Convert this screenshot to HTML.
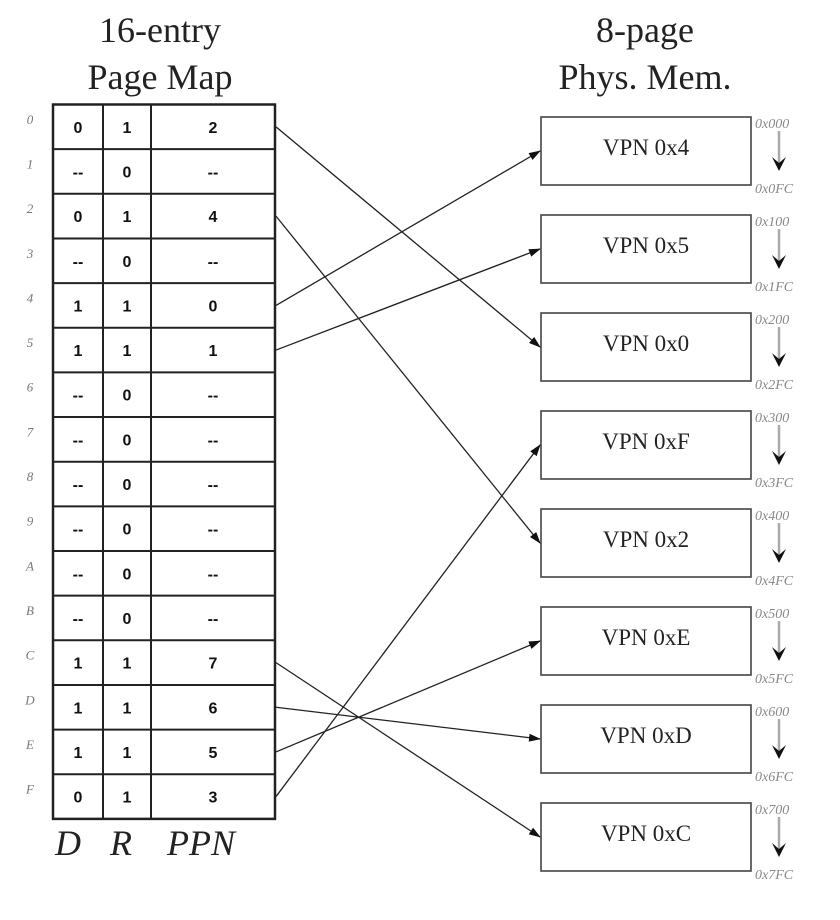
<!DOCTYPE html>
<html><head><meta charset="utf-8"><style>
html,body{margin:0;padding:0;background:#fff;width:840px;height:920px;overflow:hidden}
svg text{font-family:"Liberation Serif",serif}
.t{font-size:36px;fill:#222}
.c{font-family:"Liberation Sans",sans-serif!important;font-weight:bold;font-size:16px;fill:#111}
.idx{font-style:italic;font-size:13px;fill:#777}
.v{font-size:23px;fill:#222}
.a{font-style:italic;font-size:14px;fill:#888}
</style></head><body>
<svg width="840" height="920" viewBox="0 0 840 920" xmlns="http://www.w3.org/2000/svg">
<defs><marker id="ah" markerWidth="12" markerHeight="8" refX="11" refY="4" orient="auto" markerUnits="userSpaceOnUse"><path d="M0,0 L12,4 L0,8 Z" fill="#111"/></marker></defs>
<text class="t" x="160" y="42" text-anchor="middle">16-entry</text>
<text class="t" x="160" y="89" text-anchor="middle">Page Map</text>
<text class="t" x="645" y="42" text-anchor="middle">8-page</text>
<text class="t" x="645" y="89" text-anchor="middle">Phys. Mem.</text>
<g id="tbl"></g>
<text class="t" x="55" y="855" font-style="italic">D</text>
<text class="t" x="110" y="855" font-style="italic">R</text>
<text class="t" x="167" y="855" font-style="italic">PPN</text>
<g id="mem"></g>
<g id="arr" stroke="#222" stroke-width="1.3" fill="none"></g>
</svg>
<script>
var ns="http://www.w3.org/2000/svg";
function el(p,t,a,tx){var e=document.createElementNS(ns,t);for(var k in a)e.setAttribute(k,a[k]);if(tx!=null)e.textContent=tx;p.appendChild(e);return e;}
var tbl=document.getElementById("tbl"),mem=document.getElementById("mem"),arr=document.getElementById("arr");
var rows=[["0","1","2"],["--","0","--"],["0","1","4"],["--","0","--"],["1","1","0"],["1","1","1"],["--","0","--"],["--","0","--"],["--","0","--"],["--","0","--"],["--","0","--"],["--","0","--"],["1","1","7"],["1","1","6"],["1","1","5"],["0","1","3"]];
var T0=104.5,rh=44.65,L=53,R=275;
var ids="0123456789ABCDEF";
for(var i=0;i<16;i++){var y=T0+i*rh,cy=y+rh/2;
 el(tbl,"text",{class:"idx",x:30,y:cy-3,"text-anchor":"middle"},ids[i]);
 el(tbl,"text",{class:"c",x:78,y:cy+6,"text-anchor":"middle"},rows[i][0]);
 el(tbl,"text",{class:"c",x:127,y:cy+6,"text-anchor":"middle"},rows[i][1]);
 el(tbl,"text",{class:"c",x:213,y:cy+6,"text-anchor":"middle"},rows[i][2]);
 if(i>0)el(tbl,"line",{x1:L,y1:y,x2:R,y2:y,stroke:"#222","stroke-width":2});
}
el(tbl,"rect",{x:L,y:T0,width:R-L,height:16*rh,fill:"none",stroke:"#222","stroke-width":2.5});
el(tbl,"line",{x1:103,y1:T0,x2:103,y2:T0+16*rh,stroke:"#222","stroke-width":2});
el(tbl,"line",{x1:151,y1:T0,x2:151,y2:T0+16*rh,stroke:"#222","stroke-width":2});
var vp=["0x4","0x5","0x0","0xF","0x2","0xE","0xD","0xC"];
for(var j=0;j<8;j++){var bt=117+j*98;
 el(mem,"rect",{x:541,y:bt,width:210,height:68,fill:"#fff",stroke:"#444","stroke-width":1.6});
 el(mem,"text",{class:"v",x:646,y:bt+38,"text-anchor":"middle"},"VPN "+vp[j]);
 el(mem,"text",{class:"a",x:755,y:bt+11},"0x"+j+"00");
 el(mem,"text",{class:"a",x:755,y:bt+76},"0x"+j+"FC");
 el(mem,"line",{x1:779,y1:bt+14,x2:779,y2:bt+46,stroke:"#aaa","stroke-width":2.5});
 el(mem,"path",{d:"M772,"+(bt+40)+" L779,"+(bt+54)+" L786,"+(bt+40)+" L779,"+(bt+46)+" Z",fill:"#111"});
}
var map=[[0,2],[2,4],[4,0],[5,1],[12,7],[13,6],[14,5],[15,3]];
for(var m=0;m<map.length;m++){var r=map[m][0],b=map[m][1];var sy=T0+r*rh+rh/2,ey=117+b*98+34;
 el(arr,"line",{x1:R+1,y1:sy,x2:540,y2:ey,"marker-end":"url(#ah)"});}
</script>
</body></html>
